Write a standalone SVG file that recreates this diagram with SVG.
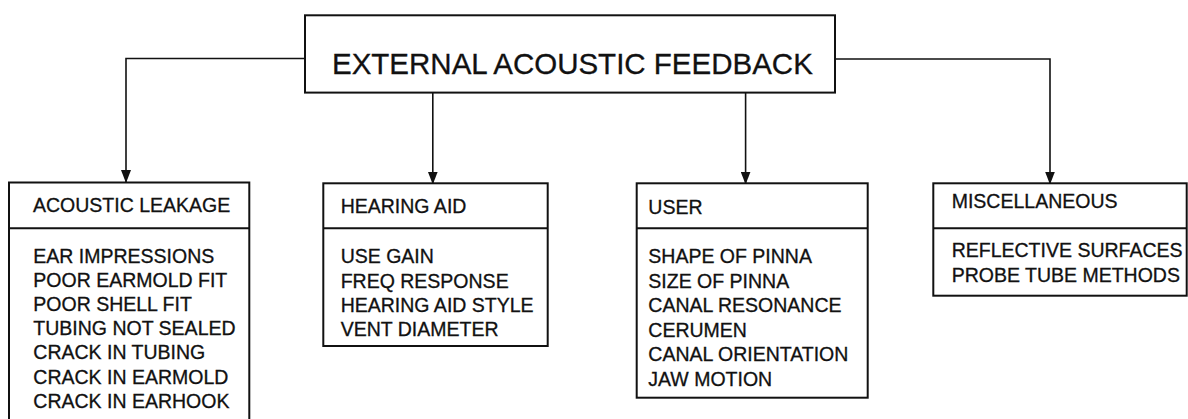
<svg xmlns="http://www.w3.org/2000/svg" width="1188" height="419" viewBox="0 0 1188 419">
<style>
.box{fill:#fff;stroke:#111;stroke-width:2}
.sep{stroke:#111;stroke-width:2}
.con{fill:none;stroke:#111;stroke-width:1.6}
text{font-family:"Liberation Sans",Arial,sans-serif;fill:#111;stroke:#111;stroke-width:0.3}
.t{font-size:19.5px}
.title{font-size:29.5px}
</style>
<defs>
<marker id="ah" markerWidth="13" markerHeight="10" refX="13" refY="5" orient="auto" markerUnits="userSpaceOnUse" viewBox="0 0 13 10">
<path d="M0,0 L13,5 L0,10 Z" fill="#111"/>
</marker>
</defs>
<rect width="1188" height="419" fill="#fff"/>
<g id="connectors">
<path class="con" d="M305,58.5 H126 V183" marker-end="url(#ah)"/>
<path class="con" d="M432.8,92.6 V184.5" marker-end="url(#ah)"/>
<path class="con" d="M745.6,92.6 V184.5" marker-end="url(#ah)"/>
<path class="con" d="M835,59 H1050 V184.5" marker-end="url(#ah)"/>
</g>
<g id="root">
<rect class="box" x="305" y="15.3" width="530" height="77.3"/>
<text class="title" x="332" y="73.5">EXTERNAL ACOUSTIC FEEDBACK</text>
</g>
<g id="acoustic-leakage">
<rect class="box" x="9" y="182.5" width="240.3" height="250"/>
<line class="sep" x1="9" y1="228.3" x2="249.3" y2="228.3"/>
<text class="t" x="33" y="212.3">ACOUSTIC LEAKAGE</text>
<text class="t" x="33.3" y="262.5">EAR IMPRESSIONS</text>
<text class="t" x="33.3" y="286.7">POOR EARMOLD FIT</text>
<text class="t" x="33.3" y="310.9">POOR SHELL FIT</text>
<text class="t" x="33.3" y="335.1">TUBING NOT SEALED</text>
<text class="t" x="33.3" y="359.3">CRACK IN TUBING</text>
<text class="t" x="33.3" y="383.5">CRACK IN EARMOLD</text>
<text class="t" x="33.3" y="407.7">CRACK IN EARHOOK</text>
</g>
<g id="hearing-aid">
<rect class="box" x="323.3" y="183.3" width="224.4" height="162.7"/>
<line class="sep" x1="323.3" y1="228.3" x2="547.7" y2="228.3"/>
<text class="t" x="340.7" y="213.3">HEARING AID</text>
<text class="t" x="340.7" y="263.3">USE GAIN</text>
<text class="t" x="340.7" y="287.6">FREQ RESPONSE</text>
<text class="t" x="340.7" y="311.8">HEARING AID STYLE</text>
<text class="t" x="340.7" y="336">VENT DIAMETER</text>
</g>
<g id="user">
<rect class="box" x="636.7" y="183.3" width="231" height="214.4"/>
<line class="sep" x1="636.7" y1="228.3" x2="867.7" y2="228.3"/>
<text class="t" x="648.3" y="214">USER</text>
<text class="t" x="648.3" y="263.3">SHAPE OF PINNA</text>
<text class="t" x="648.3" y="287.8">SIZE OF PINNA</text>
<text class="t" x="648.3" y="312.3">CANAL RESONANCE</text>
<text class="t" x="648.3" y="336.7">CERUMEN</text>
<text class="t" x="648.3" y="361">CANAL ORIENTATION</text>
<text class="t" x="648.3" y="385.5">JAW MOTION</text>
</g>
<g id="miscellaneous">
<rect class="box" x="933.3" y="183.3" width="253.4" height="112.4"/>
<line class="sep" x1="933.3" y1="228.3" x2="1186.7" y2="228.3"/>
<text class="t" x="951.7" y="208.3">MISCELLANEOUS</text>
<text class="t" x="951.7" y="256.7">REFLECTIVE SURFACES</text>
<text class="t" x="951.7" y="281.7">PROBE TUBE METHODS</text>
</g>
</svg>
